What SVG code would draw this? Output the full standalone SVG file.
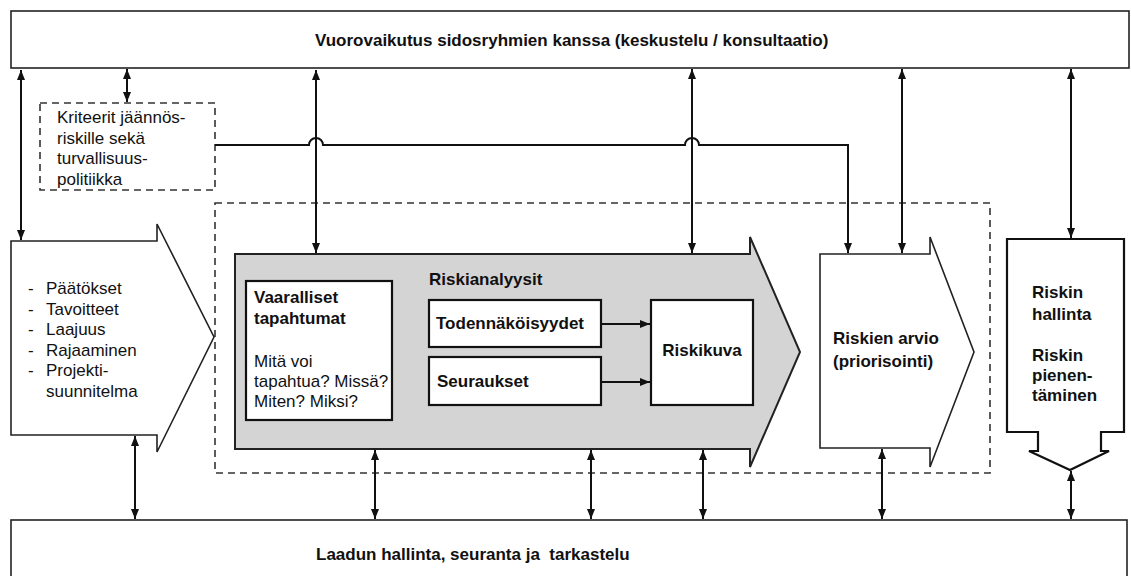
<svg xmlns="http://www.w3.org/2000/svg" width="1131" height="576" viewBox="0 0 1131 576">
<style>
text{font-family:"Liberation Sans",Arial,sans-serif;font-size:17px;fill:#111}
.b{font-weight:bold}
.box{fill:#fff;stroke:#222;stroke-width:1.6}
.thick{fill:#fff;stroke:#111;stroke-width:2.2}
.gray{fill:#d4d4d4;stroke:#222;stroke-width:2}
.dash{fill:none;stroke:#333;stroke-width:1.6;stroke-dasharray:7 5}
.conn{fill:none;stroke:#111;stroke-width:2}
.da{fill:none;stroke:#111;stroke-width:2;marker-start:url(#ah);marker-end:url(#ah)}
.sa{fill:none;stroke:#111;stroke-width:2;marker-end:url(#ah)}
</style>
<defs>
<marker id="ah" viewBox="0 0 10 8" refX="10" refY="4" markerWidth="10" markerHeight="8" markerUnits="userSpaceOnUse" orient="auto-start-reverse">
<path d="M0,0 L10,4 L0,8 z" fill="#111"/>
</marker>
</defs>
<rect width="1131" height="576" fill="#fff"/>

<g id="top-box">
<rect class="box" x="11" y="11" width="1118" height="57"/>
<text class="b" x="315" y="46">Vuorovaikutus sidosryhmien kanssa (keskustelu / konsultaatio)</text>
</g>

<g id="bottom-box">
<rect class="box" x="11" y="520" width="1116" height="80"/>
<text class="b" x="316" y="560" xml:space="preserve">Laadun hallinta, seuranta ja  tarkastelu</text>
</g>

<g id="criteria">
<rect class="dash" x="40" y="103" width="175" height="87"/>
<text x="57" y="123">Kriteerit jäännös-</text>
<text x="57" y="143.5">riskille sekä</text>
<text x="57" y="164">turvallisuus-</text>
<text x="57" y="184.5">politiikka</text>
</g>

<g id="analysis-frame">
<rect class="dash" x="215" y="203" width="775" height="270"/>
</g>

<g id="scope-arrow">
<path class="box" d="M11,241 H157 V224 L214,337 L157,452 V435 H11 Z"/>
<text x="28" y="294">-</text><text x="46" y="294">Päätökset</text>
<text x="28" y="314.5">-</text><text x="46" y="314.5">Tavoitteet</text>
<text x="28" y="335">-</text><text x="46" y="335">Laajuus</text>
<text x="28" y="355.5">-</text><text x="46" y="355.5">Rajaaminen</text>
<text x="28" y="376">-</text><text x="46" y="376">Projekti-</text>
<text x="46" y="396.5">suunnitelma</text>
</g>

<g id="risk-analysis">
<path class="gray" d="M235,254 H750 V237 L800,352 L750,467 V449 H235 Z"/>
<text class="b" x="429" y="285">Riskianalyysit</text>
</g>

<g id="hazards">
<rect class="thick" x="246" y="281" width="146" height="139"/>
<text class="b" x="254" y="303">Vaaralliset</text>
<text class="b" x="254" y="324">tapahtumat</text>
<text x="254" y="367">Mitä voi</text>
<text x="254" y="387">tapahtua? Missä?</text>
<text x="254" y="407">Miten? Miksi?</text>
</g>

<g id="probabilities">
<rect class="thick" x="429" y="300" width="172" height="47"/>
<text class="b" x="436" y="329">Todennäköisyydet</text>
</g>

<g id="consequences">
<rect class="thick" x="429" y="357" width="172" height="48"/>
<text class="b" x="437" y="387">Seuraukset</text>
</g>

<g id="risk-picture">
<rect class="thick" x="651" y="300" width="102" height="105"/>
<text class="b" x="702" y="356" text-anchor="middle">Riskikuva</text>
</g>

<g id="risk-evaluation">
<path class="box" d="M820,254 H930 V237 L974,352 L930,467 V448 H820 Z"/>
<text class="b" x="833" y="344">Riskien arvio</text>
<text class="b" x="833" y="367">(priorisointi)</text>
</g>

<g id="risk-treatment">
<path class="thick" d="M1007,239 H1124 V432 H1101 V451 H1109 L1070,470 L1029,451 H1038 V432 H1007 Z"/>
<text class="b" x="1032" y="298">Riskin</text>
<text class="b" x="1032" y="320">hallinta</text>
<text class="b" x="1032" y="361">Riskin</text>
<text class="b" x="1032" y="381">pienen-</text>
<text class="b" x="1032" y="401">täminen</text>
</g>

<g id="connectors">
<line class="da" x1="21" y1="70" x2="21" y2="240"/>
<line class="da" x1="127" y1="69" x2="127" y2="102"/>
<line class="da" x1="316" y1="70" x2="316" y2="253"/>
<line class="da" x1="692" y1="69" x2="692" y2="253"/>
<line class="da" x1="902" y1="69" x2="902" y2="253"/>
<line class="da" x1="1071" y1="69" x2="1071" y2="238"/>
<path class="sa" d="M215,145 H309 A7,7 0 0 1 323,145 H685 A7,7 0 0 1 699,145 H848 V253"/>
<line class="da" x1="135" y1="436" x2="135" y2="519"/>
<line class="da" x1="375" y1="450" x2="375" y2="519"/>
<line class="da" x1="591" y1="450" x2="591" y2="519"/>
<line class="da" x1="703" y1="450" x2="703" y2="519"/>
<line class="da" x1="882" y1="449" x2="882" y2="519"/>
<line class="da" x1="1071" y1="471" x2="1071" y2="519"/>
<line class="sa" x1="601" y1="324" x2="650" y2="324"/>
<line class="sa" x1="601" y1="382" x2="650" y2="382"/>
</g>
</svg>
